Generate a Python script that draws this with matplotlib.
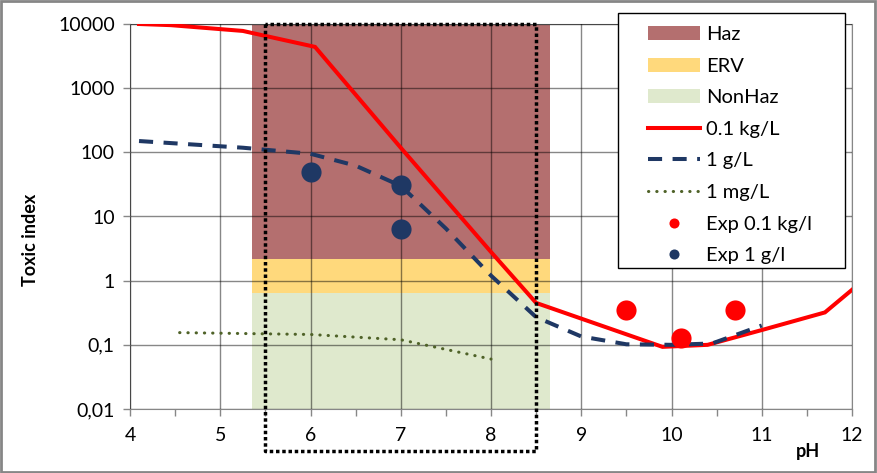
import matplotlib
matplotlib.use("Agg")
import matplotlib.pyplot as plt
from matplotlib.patches import Rectangle
from matplotlib.transforms import blended_transform_factory

plt.rcParams['font.family'] = ['Lato', 'DejaVu Sans']

# curves (pH, toxic index)
ph_01kg = [4.1, 4.45, 5.25, 6.05, 7.0, 8.0, 8.5, 9.9, 10.4, 11.0, 11.7, 12.0]
tox_01kg = [10000, 9600, 7800, 4400, 118, 2.8, 0.45, 0.093, 0.1, 0.17, 0.32, 0.72]

ph_1g = [4.1, 5.25, 6.0, 6.5, 7.0, 7.5, 8.0, 8.5, 9.0, 9.5, 10.0, 10.45, 11.0]
tox_1g = [150, 118, 95, 62, 30, 6.5, 1.2, 0.27, 0.135, 0.102, 0.1, 0.105, 0.2]

ph_1mg = [4.55, 6.0, 7.0, 8.0]
tox_1mg = [0.155, 0.145, 0.12, 0.06]

# experimental points
exp_01kg_ph = [9.5, 10.1, 10.7]
exp_01kg_tox = [0.35, 0.13, 0.35]
exp_1g_ph = [6.0, 7.0, 7.0]
exp_1g_tox = [50, 31, 6.5]

# classification bands
band_ph = [5.35, 8.65]
haz_range = [2.2, 10000]
erv_range = [0.65, 2.2]
nonhaz_range = [0.01, 0.65]

window_ph = [5.5, 8.5]

yticks = [0.01, 0.1, 1, 10, 100, 1000, 10000]
ytick_labels = ["0,01", "0,1", "1", "10", "100", "1000", "10000"]

fig = plt.figure(figsize=(8.77, 4.73), dpi=100)
ax = fig.add_axes([130/877, 1-409/473, 722/877, 385/473])

ax.fill_between(band_ph, haz_range[0], haz_range[1], color='#B46F6F', lw=0, zorder=0.5, label='Haz')
ax.fill_between(band_ph, erv_range[0], erv_range[1], color='#FFD97C', lw=0, zorder=0.5, label='ERV')
ax.fill_between(band_ph, nonhaz_range[0], nonhaz_range[1], color='#DFE9CD', lw=0, zorder=0.5, label='NonHaz')

ax.plot(ph_01kg, tox_01kg, color='#FF0000', lw=2.9, zorder=4, label='0.1 kg/L', solid_joinstyle='miter')
ax.plot(ph_1g, tox_1g, color='#1F3864', lw=2.9, ls=(0, (3.5, 2.6)), zorder=4, label='1 g/L')
ax.plot(ph_1mg, tox_1mg, color='#4F6228', lw=2.2, ls=(0, (0.1, 2.6)), dash_capstyle='round', zorder=4, label='1 mg/L')
ax.plot(exp_01kg_ph, exp_01kg_tox, 'o', color='#FF0000', ms=14.5, mew=0, zorder=5, label='Exp 0.1 kg/l')
ax.plot(exp_1g_ph, exp_1g_tox, 'o', color='#1F3864', ms=14.5, mew=0, zorder=5, label='Exp 1 g/l')

# dotted window, running below the axis
tr = blended_transform_factory(ax.transData, ax.transAxes)
wx = [window_ph[0], window_ph[0], window_ph[1], window_ph[1], window_ph[0]]
wy = [1.0, -0.109, -0.109, 1.0, 1.0]
ax.plot(wx, wy, transform=tr, color='black', lw=2.5, ls=(0, (1, 0.8)), clip_on=False, zorder=6)

ax.set_yscale('log')
ax.set_ylim(0.01, 10000)
ax.set_xlim(4, 12)
ax.set_yticks(yticks)
ax.set_yticklabels(ytick_labels)
ax.yaxis.set_minor_locator(matplotlib.ticker.NullLocator())
ax.set_xticks(range(4, 13))
ax.set_xticks([4.5, 5.5, 6.5, 7.5, 8.5, 9.5, 10.5, 11.5], minor=True)
ax.tick_params(axis='both', which='both', direction='out', length=5, width=1, color='#878787', labelsize=14, pad=6)
ax.tick_params(axis='x', pad=8)
ax.grid(True, which='major', color='black', alpha=0.47, lw=1, zorder=1)
ax.set_axisbelow(False)
for s in ax.spines.values():
    s.set_color('#878787')
    s.set_zorder(1)

fig.text(31/877, 1-240/473, 'Toxic index', rotation=90, ha='center', va='center', fontsize=13, fontweight='bold')
fig.text(808/877, 1-451/473, 'pH', ha='center', va='center', fontsize=13, fontweight='bold')

# legend box
fig.add_artist(Rectangle((618/877, 1-268/473), 227/877, 255/473, transform=fig.transFigure,
                         facecolor='white', edgecolor='black', lw=1, zorder=4))
h, l = ax.get_legend_handles_labels()
fig.legend(h, l, loc='upper left', bbox_to_anchor=(648/877, 1-26/473), frameon=False,
           borderpad=0, borderaxespad=0, fontsize=14.5, handlelength=2.6, handletextpad=0.3,
           labelspacing=0.72, markerscale=0.5).set_zorder(5)

# chart area border
fig.add_artist(Rectangle((0.001, 0.002), 0.997, 0.996, transform=fig.transFigure,
                         fill=False, edgecolor='#868686', lw=2, zorder=10))

fig.savefig('out.png', dpi=100)
